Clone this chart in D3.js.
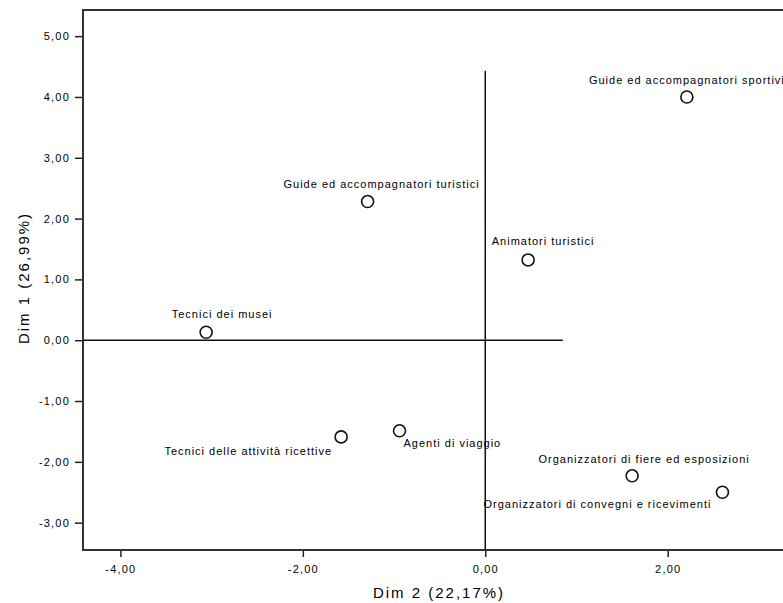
<!DOCTYPE html>
<html>
<head>
<meta charset="utf-8">
<script src="https://cdn.jsdelivr.net/npm/d3@7"></script>
<style>
  body { margin: 0; background: #fff; }
  svg { display: block; }
  text { font-family: "Liberation Sans", Arial, sans-serif; fill: #000; }
</style>
</head>
<body>
<div id="chart"></div>
<script>
// categorie (professioni) e coordinate sulle due dimensioni
var categories = [
    "Guide ed accompagnatori sportivi",
    "Guide ed accompagnatori turistici",
    "Animatori turistici",
    "Tecnici dei musei",
    "Tecnici delle attività ricettive",
    "Agenti di viaggio",
    "Organizzatori di fiere ed esposizioni",
    "Organizzatori di convegni e ricevimenti"
];
var dim2 = [2.21, -1.29, 0.47, -3.06, -1.58, -0.94, 1.61, 2.60];
var dim1 = [4.00, 2.28, 1.32, 0.13, -1.59, -1.49, -2.23, -2.50];

var xTicks = [-4, -2, 0, 2];
var yTicks = [-3, -2, -1, 0, 1, 2, 3, 4, 5];

// linee di riferimento (SPSS): [x1, y1, x2, y2] in unità degli assi
var refLines = [
    [-4.41, 0, 0.85, 0],
    [0, -3.45, 0, 4.43]
];

var xTitle = "Dim 2 (22,17%)";
var yTitle = "Dim 1 (26,99%)";

//dimensioni
var width = 783;
var height = 603;
var plot = {left: 83, top: 10, right: 810, bottom: 550};

var svg = d3.select("#chart")
    .append("svg")
    .attr("width", width)
    .attr("height", height);

//scale
var xScale = d3.scaleLinear()
    .domain([-4.41, 3.56])
    .range([plot.left, plot.right]);
var yScale = d3.scaleLinear()
    .domain([-3.45, 5.43])
    .range([plot.bottom, plot.top]);

var fmt = function (d) { return d3.format(".2f")(d).replace(".", ",").replace("\u2212", "-"); };

//assi
var gx = svg.append("g")
    .attr("transform", "translate(0," + plot.bottom + ")")
    .call(d3.axisBottom(xScale).tickValues(xTicks).tickFormat(fmt).tickSize(7).tickPadding(8));
var gy = svg.append("g")
    .attr("transform", "translate(" + plot.left + ",0)")
    .call(d3.axisLeft(yScale).tickValues(yTicks).tickFormat(fmt).tickSize(8).tickPadding(5));
[gx, gy].forEach(function (g) {
    g.select(".domain").remove();
    g.selectAll(".tick line").attr("stroke", "#222").attr("stroke-width", 1.5);
    g.selectAll(".tick text")
        .style("font-size", "11px")
        .style("letter-spacing", "1.2px")
        .attr("fill", "#111");
});

//cornice
svg.append("path")
    .attr("d", "M" + plot.right + "," + plot.top + "H" + plot.left + "V" + plot.bottom + "H" + plot.right)
    .attr("fill", "none")
    .attr("stroke", "#333")
    .attr("stroke-width", 2);

//linee di riferimento
svg.append("g")
    .selectAll("line")
    .data(refLines)
    .enter().append("line")
    .attr("x1", function (d) { return xScale(d[0]); })
    .attr("y1", function (d) { return yScale(d[1]); })
    .attr("x2", function (d) { return xScale(d[2]); })
    .attr("y2", function (d) { return yScale(d[3]); })
    .attr("stroke", "#111")
    .attr("stroke-width", 1.5);

var points = categories.map(function (c, i) {
    return {name: c, x: dim2[i], y: dim1[i]};
});

//posizione delle etichette rispetto al punto
var labelPos = [
    {anchor: "middle", dx: 0, dy: -13},
    {anchor: "middle", dx: 14, dy: -14},
    {anchor: "middle", dx: 15, dy: -15},
    {anchor: "middle", dx: 16, dy: -14},
    {anchor: "end", dx: -9, dy: 18},
    {anchor: "start", dx: 4, dy: 16},
    {anchor: "middle", dx: 12, dy: -13},
    {anchor: "end", dx: -11, dy: 16}
];

var g = svg.append("g");
g.selectAll("circle")
    .data(points)
    .enter().append("circle")
    .attr("cx", function (d) { return xScale(d.x); })
    .attr("cy", function (d) { return yScale(d.y); })
    .attr("r", 6)
    .attr("fill", "#fff")
    .attr("stroke", "#111")
    .attr("stroke-width", 1.6);

g.selectAll("text")
    .data(points)
    .enter().append("text")
    .attr("x", function (d, i) { return xScale(d.x) + labelPos[i].dx; })
    .attr("y", function (d, i) { return yScale(d.y) + labelPos[i].dy; })
    .attr("text-anchor", function (d, i) { return labelPos[i].anchor; })
    .style("font-size", "11px")
    .style("letter-spacing", "1px")
    .text(function (d) { return d.name; });

//titoli degli assi
svg.append("text")
    .attr("x", 439)
    .attr("y", 598)
    .attr("text-anchor", "middle")
    .style("font-size", "15px")
    .style("letter-spacing", "2px")
    .text(xTitle);
svg.append("text")
    .attr("transform", "translate(29,278) rotate(-90)")
    .attr("text-anchor", "middle")
    .style("font-size", "15px")
    .style("letter-spacing", "2px")
    .text(yTitle);
</script>
</body>
</html>
